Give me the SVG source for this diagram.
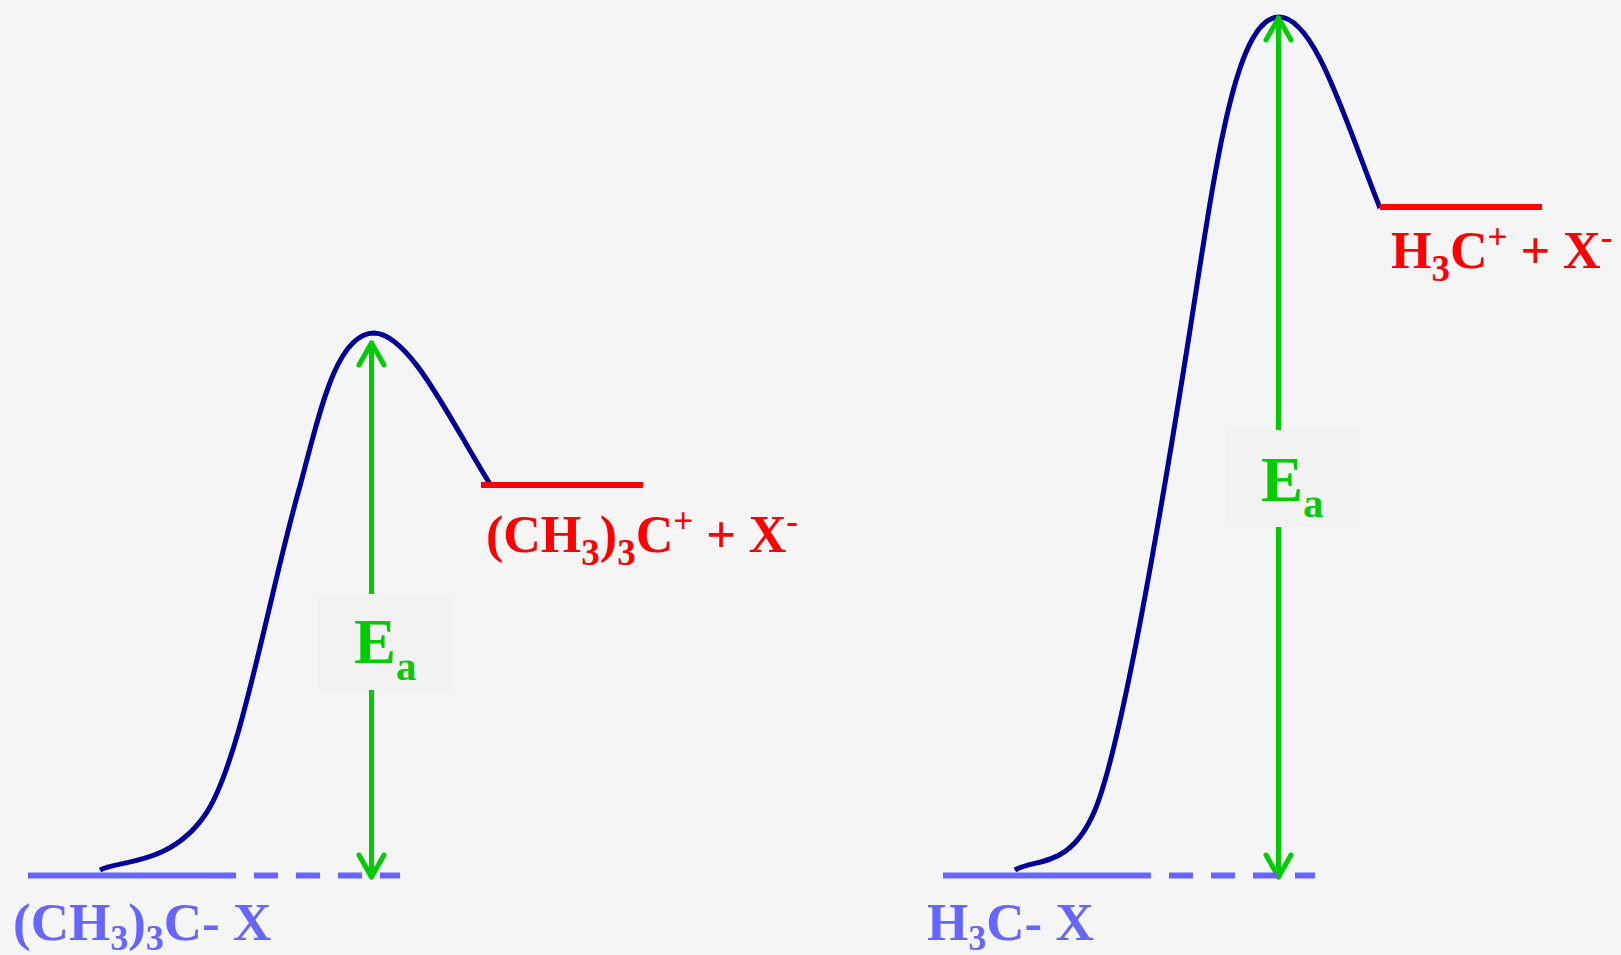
<svg xmlns="http://www.w3.org/2000/svg" width="1621" height="955" viewBox="0 0 1621 955">
<style>
.bg{fill:#f5f5f5}
.base{stroke:#6666ff;stroke-width:6;fill:none}
.dash{stroke:#6666ff;stroke-width:6;fill:none;stroke-dasharray:24 18}
.prod{stroke:#ff0000;stroke-width:6;fill:none}
.curve{stroke:#000099;stroke-width:5;fill:none;stroke-linecap:butt}
.arr{stroke:#00cc00;stroke-width:5;fill:none;stroke-linecap:round;stroke-linejoin:round}
.lbox{fill:#f2f2f2}
.t{font-family:"Liberation Serif","Times New Roman",serif;font-weight:bold}
.blue{fill:#6666ff;font-size:53px}
.red{fill:#ff0000;font-size:52px}
.green{fill:#00cc00;font-size:63px}
</style>
<rect class="bg" x="0" y="0" width="1621" height="955"/>
<g id="connectors">
  <path class="curve" d="M100,870 C118,860 170,866 205,815 C240,765 268,598 300,486 C318,420 335,333 374,333 C410,334 450,420 490,484"/>
  <path class="curve" d="M1015,870 C1035,858 1070,870 1095,810 C1120,750 1160,520 1190,330 C1215,170 1235,17 1279,17 C1315,17 1345,120 1380,208"/>
  <line class="arr" x1="371.5" y1="343" x2="371.5" y2="593"/>
  <line class="arr" x1="371.5" y1="690" x2="371.5" y2="877"/>
  <polyline class="arr" points="359,365 371.5,343 384,365"/>
  <polyline class="arr" points="359,855 371.5,877 384,855"/>
  <line class="arr" x1="1278.5" y1="18" x2="1278.5" y2="429"/>
  <line class="arr" x1="1278.5" y1="527" x2="1278.5" y2="877"/>
  <polyline class="arr" points="1266,40 1278.5,18 1291,40"/>
  <polyline class="arr" points="1266,855 1278.5,877 1291,855"/>
</g>
<g id="reactant-left">
  <line class="base" x1="28" y1="875.5" x2="212" y2="875.5"/>
  <line class="dash" x1="212" y1="875.5" x2="400" y2="875.5"/>
  <text class="t blue" x="13" y="940">(CH<tspan font-size="36" dy="10">3</tspan><tspan dy="-10">)</tspan><tspan font-size="36" dy="10">3</tspan><tspan dy="-10">C- X</tspan></text>
</g>
<g id="product-left">
  <line class="prod" x1="481" y1="485" x2="643" y2="485"/>
  <text class="t red" x="486" y="552">(CH<tspan font-size="37" dy="13">3</tspan><tspan dy="-13">)</tspan><tspan font-size="37" dy="13">3</tspan><tspan dy="-13">C</tspan><tspan font-size="35" dy="-19">+</tspan><tspan dy="19"> + X</tspan><tspan font-size="35" dy="-19">-</tspan></text>
</g>
<g id="ea-left">
  <rect class="lbox" x="318" y="594" width="135" height="96"/>
  <text class="t green" x="354" y="663">E<tspan font-size="41" dy="17">a</tspan></text>
</g>
<g id="reactant-right">
  <line class="base" x1="943" y1="875.5" x2="1127" y2="875.5"/>
  <line class="dash" x1="1127" y1="875.5" x2="1315" y2="875.5"/>
  <text class="t blue" x="927" y="940">H<tspan font-size="36" dy="10">3</tspan><tspan dy="-10">C- X</tspan></text>
</g>
<g id="product-right">
  <line class="prod" x1="1380" y1="207" x2="1542" y2="207"/>
  <text class="t red" x="1391" y="268">H<tspan font-size="37" dy="13">3</tspan><tspan dy="-13">C</tspan><tspan font-size="35" dy="-19">+</tspan><tspan dy="19"> + X</tspan><tspan font-size="35" dy="-19">-</tspan></text>
</g>
<g id="ea-right">
  <rect class="lbox" x="1226" y="430" width="135" height="97"/>
  <text class="t green" x="1261" y="501">E<tspan font-size="41" dy="16">a</tspan></text>
</g>
</svg>
